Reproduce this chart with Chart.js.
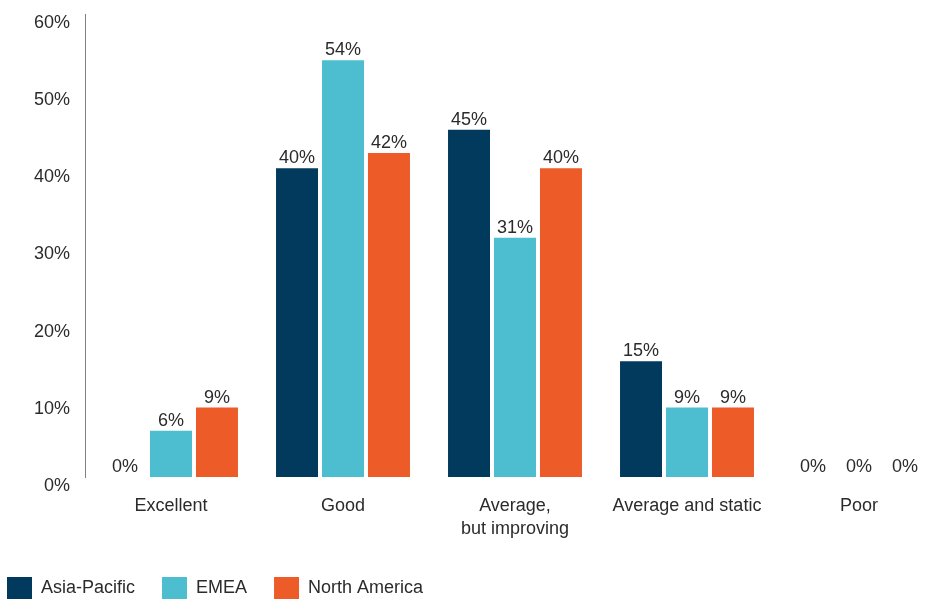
<!DOCTYPE html>
<html>
<head>
<meta charset="utf-8">
<script src="https://cdn.jsdelivr.net/npm/chart.js@4/dist/chart.umd.min.js"></script>
<style>
  html, body { margin: 0; padding: 0; background: #fff; overflow: hidden; }
  #wrap { position: absolute; left: -20px; top: 0; width: 1000px; height: 610px; }
</style>
</head>
<body>
<div id="wrap"><canvas id="grafico"></canvas></div>
<script>
// Datos
const categorias = ["Excellent", "Good", ["Average,", "but improving"], "Average and static", "Poor"];
const asiaPacific = [0, 40, 45, 15, 0];
const emea = [6, 54, 31, 9, 0];
const northAmerica = [9, 42, 40, 9, 0];
const ticksY = [0, 10, 20, 30, 40, 50, 60];

const colores = { asia: "#013a5c", emea: "#4cbecf", na: "#ec5b28" };
const fuente = "'Liberation Sans', Arial, sans-serif";
const gris = "#2b2b2b";

// Etiquetas de valor encima de cada barra
const etiquetasBarras = {
    id: "etiquetasBarras",
    afterDatasetsDraw(chart){
        const ctx = chart.ctx;
        ctx.save();
        ctx.font = "18px " + fuente;
        ctx.fillStyle = gris;
        ctx.textAlign = "center";
        ctx.textBaseline = "alphabetic";
        chart.data.datasets.forEach((ds, i) => {
            chart.getDatasetMeta(i).data.forEach((barra, j) => {
                ctx.fillText(ds.data[j] + "%", barra.x, barra.y - 5);
            });
        });
        ctx.restore();
    }
};

new Chart(document.getElementById("grafico"), {
    type: "bar",
    data: {
        labels: categorias,
        datasets: [
            { label: "Asia-Pacific", data: asiaPacific, backgroundColor: colores.asia },
            { label: "EMEA", data: emea, backgroundColor: colores.emea },
            { label: "North America", data: northAmerica, backgroundColor: colores.na }
        ]
    },
    options: {
        responsive: true,
        maintainAspectRatio: false,
        animation: false,
        datasets: { bar: { categoryPercentage: 0.802, barPercentage: 0.913 } },
        layout: { padding: { top: 14, right: 35, left: 0, bottom: 0 } },
        plugins: {
            tooltip: { enabled: false },
            legend: {
                position: "bottom",
                align: "start",
                labels: {
                    boxWidth: 25,
                    boxHeight: 23,
                    padding: 27,
                    color: gris,
                    font: { family: fuente, size: 18 }
                }
            }
        },
        scales: {
            x: {
                grid: { display: false, drawTicks: false },
                border: { display: false },
                ticks: { color: gris, padding: 18, font: { family: fuente, size: 18, lineHeight: 1.25 }, maxRotation: 0, autoSkip: false },
                afterFit: s => { s.height = 73; }
            },
            y: {
                min: ticksY[0],
                max: ticksY[ticksY.length - 1],
                afterBuildTicks: s => { s.ticks = ticksY.map(v => ({ value: v })); },
                grid: { display: false, drawTicks: false },
                border: { display: true, color: "#808080", width: 1 },
                ticks: {
                    color: gris,
                    padding: 15,
                    labelOffset: 9,
                    font: { family: fuente, size: 18 },
                    callback: v => v + "%"
                },
                afterFit: s => { s.width = 105; s.paddingTop = 0; s.paddingBottom = 0; }
            }
        }
    },
    plugins: [etiquetasBarras]
});
</script>
</body>
</html>
